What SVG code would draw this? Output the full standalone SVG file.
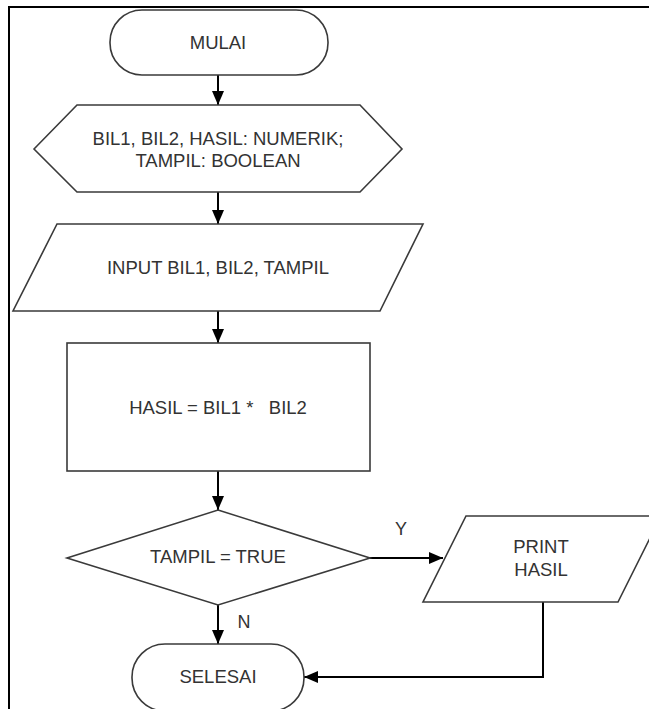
<svg xmlns="http://www.w3.org/2000/svg" width="649" height="709" viewBox="0 0 649 709">
<style>
.shape{fill:#fff;stroke:#3a3a3a;stroke-width:1.6}
.txt{font-family:"Liberation Sans",Arial,sans-serif;font-size:18.5px;fill:#333;text-anchor:middle}
.lbl{font-family:"Liberation Sans",Arial,sans-serif;font-size:18px;fill:#333;text-anchor:middle}
.conn{fill:none;stroke:#000;stroke-width:2}
</style>
<defs>
<marker id="arr" viewBox="0 0 14 12" refX="14" refY="6" markerWidth="14" markerHeight="12" markerUnits="userSpaceOnUse" orient="auto">
<path d="M0,0 L14,6 L0,12 Z" fill="#000"/>
</marker>
</defs>
<rect width="649" height="709" fill="#fff"/>
<g id="frame">
<path d="M9,709 L9,7 L649,7" fill="none" stroke="#000" stroke-width="2"/>
</g>
<g id="connectors">
<line class="conn" x1="218" y1="75" x2="218" y2="105" marker-end="url(#arr)"/>
<line class="conn" x1="218" y1="192" x2="218" y2="224" marker-end="url(#arr)"/>
<line class="conn" x1="218" y1="311" x2="218" y2="343" marker-end="url(#arr)"/>
<line class="conn" x1="218" y1="471" x2="218" y2="510" marker-end="url(#arr)"/>
<line class="conn" x1="370" y1="558" x2="443" y2="558" marker-end="url(#arr)"/>
<line class="conn" x1="218" y1="605" x2="218" y2="644" marker-end="url(#arr)"/>
<polyline class="conn" points="543,602 543,677 304,677" marker-end="url(#arr)"/>
<text class="lbl" x="401" y="535">Y</text>
<text class="lbl" x="244" y="628">N</text>
</g>
<g id="mulai">
<rect class="shape" x="110" y="10" width="218" height="65" rx="32" ry="32"/>
<text class="txt" x="218" y="49">MULAI</text>
</g>
<g id="deklarasi">
<polygon class="shape" points="34,149 77,105 360,105 402,149 360,192 77,192"/>
<text class="txt" x="218" y="145">BIL1, BIL2, HASIL: NUMERIK;</text>
<text class="txt" x="218" y="167">TAMPIL: BOOLEAN</text>
</g>
<g id="input">
<polygon class="shape" points="57,224 423,224 380,311 13,311"/>
<text class="txt" x="218" y="274">INPUT BIL1, BIL2, TAMPIL</text>
</g>
<g id="proses">
<rect class="shape" x="67" y="343" width="303" height="128"/>
<text class="txt" x="218" y="414" xml:space="preserve">HASIL = BIL1 *   BIL2</text>
</g>
<g id="keputusan">
<polygon class="shape" points="218,510 370,558 218,605 67,558"/>
<text class="txt" x="218" y="563">TAMPIL = TRUE</text>
</g>
<g id="print">
<polygon class="shape" points="466,516 661,516 618,602 423,602"/>
<text class="txt" x="541" y="553">PRINT</text>
<text class="txt" x="541" y="576">HASIL</text>
</g>
<g id="selesai">
<rect class="shape" x="132" y="644" width="172" height="67" rx="33" ry="33"/>
<text class="txt" x="218" y="683">SELESAI</text>
</g>
</svg>
